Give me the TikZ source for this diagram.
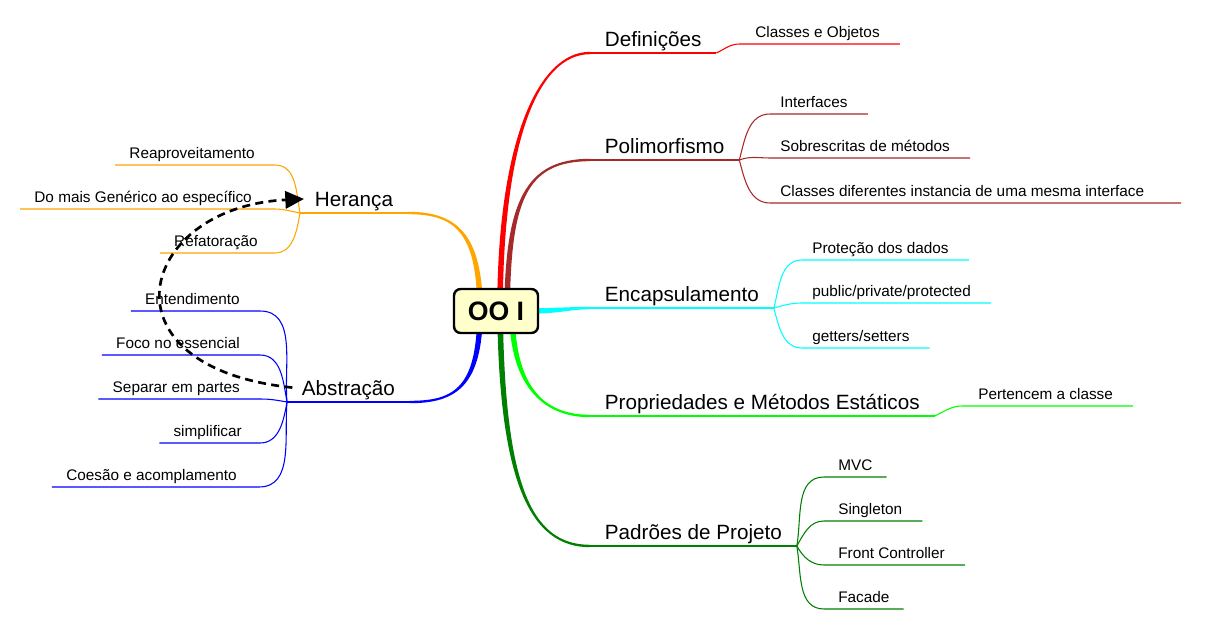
\documentclass[tikz,border=0pt]{standalone}
\usepackage{fontspec}
\setmainfont{Liberation Sans}
\usetikzlibrary{arrows.meta,positioning,calc,backgrounds}

\definecolor{defred}{HTML}{FF0000}
\definecolor{polbrown}{HTML}{A52A2A}
\definecolor{enccyan}{HTML}{00FFFF}
\definecolor{proplime}{HTML}{00FF00}
\definecolor{padgreen}{HTML}{008000}
\definecolor{herorange}{HTML}{FFA500}
\definecolor{absblue}{HTML}{0000FF}
\definecolor{rootfill}{HTML}{FFFFCC}

\tikzset{
	root/.style={
		rectangle,
		rounded corners=5pt,
		draw=black, line width=1.8pt,
		fill=rootfill,
		minimum width=63pt,
		minimum height=33pt,
		font=\fontsize{20}{24}\selectfont\bfseries
	},
	topic/.style={
		inner xsep=11pt, inner ysep=5pt,
		text depth=0pt,
		font=\fontsize{15.5}{18}\selectfont
	},
	leaf/.style={
		inner xsep=7.5pt, inner ysep=5pt,
		text depth=0pt,
		font=\fontsize{11.5}{14}\selectfont
	},
	topicline/.style={line width=1.8pt},
	leafline/.style={line width=0.8pt},
	linkline/.style={draw, line width=2pt, dash pattern=on 6pt off 4pt,
		-{Triangle[length=14pt,width=13pt]}}
}

% colour, start, control 1, control 2, end, start offset, end offset
\newcommand{\taper}[7]{%
	\fill[#1] ($#2+#6$) .. controls ($#3+#6$) and ($#4+#7$) .. ($#5+#7$)
		-- ($#5-#7$) .. controls ($#4-#7$) and ($#3-#6$) .. ($#2-#6$) -- cycle;}

\begin{document}
\begin{tikzpicture}[x=0.75pt, y=0.75pt]
\useasboundingbox (0,0) rectangle (1205,622);

\node[root] (oo) at (496,311) {OO I};

% topics
\node[topic, anchor=south west] (def) at (590,569) {Definições};
\node[topic, anchor=south west] (pol) at (590,462) {Polimorfismo};
\node[topic, anchor=south west] (enc) at (590,314) {Encapsulamento};
\node[topic, anchor=south west] (prop) at (590,206) {Propriedades e Métodos Estáticos};
\node[topic, anchor=south west] (pad) at (590,76) {Padrões de Projeto};
\node[topic, anchor=south west] (her) at (300,409) {Herança};
\node[topic, anchor=south west] (abs) at (287,220) {Abstração};

% leaves, right side
\node[leaf, anchor=south west] (cls) at (745,578) {Classes e Objetos};
\node[leaf, anchor=south west] (intf) at (770,508) {Interfaces};
\node[leaf, anchor=south west] (sobr) at (770,464) {Sobrescritas de métodos};
\node[leaf, anchor=south west] (cdif) at (770,419) {Classes diferentes instancia de uma mesma interface};
\node[leaf, anchor=south west] (prot) at (802,362) {Proteção dos dados};
\node[leaf, anchor=south west] (pub) at (802,319) {public/private/protected};
\node[leaf, anchor=south west] (get) at (802,274) {getters/setters};
\node[leaf, anchor=south west] (pert) at (968,216) {Pertencem a classe};
\node[leaf, anchor=south west] (mvc) at (828,145) {MVC};
\node[leaf, anchor=south west] (sing) at (828,101) {Singleton};
\node[leaf, anchor=south west] (front) at (828,57) {Front Controller};
\node[leaf, anchor=south west] (fac) at (828,13) {Facade};

% leaves, left side
\node[leaf, anchor=south east] (reap) at (265,457) {Reaproveitamento};
\node[leaf, anchor=south east] (gen) at (262,413) {Do mais Genérico ao específico};
\node[leaf, anchor=south east] (refa) at (268,369) {Refatoração};
\node[leaf, anchor=south east] (ent) at (250,311) {Entendimento};
\node[leaf, anchor=south east] (foco) at (250,267) {Foco no essencial};
\node[leaf, anchor=south east] (sep) at (250,223) {Separar em partes};
\node[leaf, anchor=south east] (simp) at (252,179) {simplificar};
\node[leaf, anchor=south east] (coes) at (247,135) {Coesão e acomplamento};

\begin{scope}[on background layer]
% main branches
\taper{defred}{($(oo.center)+(4,0)$)}{(500,480)}{(538,569)}{(def.south west)}{(2.8,0)}{(0,-1.2)}
\taper{polbrown}{($(oo.center)+(11,0)$)}{(508,420)}{(525,462)}{(pol.south west)}{(2.8,0)}{(0,-1.2)}
\taper{enccyan}{($(oo.center)+(30,0)$)}{(560,311)}{(570,314)}{(enc.south west)}{(0,2.8)}{(0,1.2)}
\taper{proplime}{($(oo.center)+(16,0)$)}{(512,240)}{(540,206)}{(prop.south west)}{(2.8,0)}{(0,1.2)}
\taper{padgreen}{($(oo.center)+(4,0)$)}{(502,140)}{(530,76)}{(pad.south west)}{(2.8,0)}{(0,1.2)}
\taper{herorange}{($(oo.center)+(-16,0)$)}{(480,390)}{(455,409)}{(her.south east)}{(2.8,0)}{(0,1.2)}
\taper{absblue}{($(oo.center)+(-16,0)$)}{(480,235)}{(455,220)}{(abs.south east)}{(2.8,0)}{(0,-1.2)}
\end{scope}

% topic underlines
\draw[topicline, defred] (def.south west) -- (def.south east);
\draw[topicline, polbrown] (pol.south west) -- (pol.south east);
\draw[topicline, enccyan] (enc.south west) -- (enc.south east);
\draw[topicline, proplime] (prop.south west) -- (prop.south east);
\draw[topicline, padgreen] (pad.south west) -- (pad.south east);
\draw[topicline, herorange] (her.south west) -- (her.south east);
\draw[topicline, absblue] (abs.south west) -- (abs.south east);

% right side sub-branches
\draw[leafline, defred] (def.south east) to[out=25, in=180] ([xshift=-4pt]cls.south west) -- ([xshift=7.5pt]cls.south east);
\draw[leafline, polbrown] (pol.south east) to[out=75, in=180] (intf.south west) -- ([xshift=7.5pt]intf.south east);
\draw[leafline, polbrown] (pol.south east) to[out=20, in=180] (sobr.south west) -- ([xshift=7.5pt]sobr.south east);
\draw[leafline, polbrown] (pol.south east) to[out=-75, in=180] (cdif.south west) -- ([xshift=20pt]cdif.south east);
\draw[leafline, enccyan] (enc.south east) to[out=75, in=180] (prot.south west) -- ([xshift=7.5pt]prot.south east);
\draw[leafline, enccyan] (enc.south east) to[out=15, in=180] (pub.south west) -- ([xshift=7.5pt]pub.south east);
\draw[leafline, enccyan] (enc.south east) to[out=-75, in=180] (get.south west) -- ([xshift=7.5pt]get.south east);
\draw[leafline, proplime] (prop.south east) to[out=25, in=180] ([xshift=-4pt]pert.south west) -- ([xshift=7.5pt]pert.south east);
\draw[leafline, padgreen] (pad.south east) to[out=80, in=180] ([xshift=-3pt]mvc.south west) -- ([xshift=3pt]mvc.south east);
\draw[leafline, padgreen] (pad.south east) to[out=60, in=180] ([xshift=-3pt]sing.south west) -- ([xshift=7.5pt]sing.south east);
\draw[leafline, padgreen] (pad.south east) to[out=-60, in=180] ([xshift=-3pt]front.south west) -- ([xshift=7.5pt]front.south east);
\draw[leafline, padgreen] (pad.south east) to[out=-80, in=180] ([xshift=-3pt]fac.south west) -- ([xshift=3pt]fac.south east);

% left side sub-branches
\draw[leafline, herorange] (her.south west) to[out=100, in=0] ([xshift=7.5pt]reap.south east) -- ([xshift=-3pt]reap.south west);
\draw[leafline, herorange] (her.south west) to[out=170, in=0] ([xshift=9pt]gen.south east) -- ([xshift=-3pt]gen.south west);
\draw[leafline, herorange] (her.south west) to[out=-100, in=0] ([xshift=5pt]refa.south east) -- ([xshift=-3pt]refa.south west);
\draw[leafline, absblue] (abs.south west) to[out=95, in=0] ([xshift=7.5pt]ent.south east) -- ([xshift=-3pt]ent.south west);
\draw[leafline, absblue] (abs.south west) to[out=100, in=0] ([xshift=7.5pt]foco.south east) -- ([xshift=-3pt]foco.south west);
\draw[leafline, absblue] (abs.south west) to[out=170, in=0] ([xshift=7.5pt]sep.south east) -- ([xshift=-3pt]sep.south west);
\draw[leafline, absblue] (abs.south west) to[out=-100, in=0] ([xshift=6pt]simp.south east) -- ([xshift=-3pt]simp.south west);
\draw[leafline, absblue] (abs.south west) to[out=-95, in=0] ([xshift=9pt]coes.south east) -- ([xshift=-3pt]coes.south west);

% link Abstração -> Herança
\draw[linkline] ([xshift=4pt]abs.west) .. controls (95,255) and (138,415) .. ([xshift=3pt]her.west);

\end{tikzpicture}
\end{document}
